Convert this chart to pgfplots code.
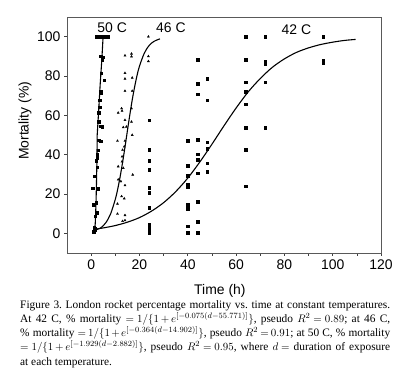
\documentclass[border=0pt]{standalone}
\usepackage{fontspec}
\setmainfont{Liberation Serif}
\newfontfamily\hv{Liberation Sans}
\usepackage{pgfplots}
\pgfplotsset{compat=1.18}
\begin{document}
\begin{tikzpicture}
\path[use as bounding box] (-67bp,-132bp) rectangle (333bp,253bp);
\begin{axis}[
 scale only axis, width=314bp, height=236bp,
 xmin=-10, xmax=120, ymin=-10, ymax=110,
 xtick={0,20,...,120}, ytick={0,20,...,100},
 minor xtick={10,30,...,110},
 tick pos=left,
 tick align=outside, major tick length=3pt, minor tick length=3pt,
 tick style={black!75, line width=0.6pt},
 axis line style={black!65, line width=0.8pt},
 /pgf/number format/assume math mode=true,
 ticklabel style={font=\hv\fontsize{14}{16}\selectfont},
 label style={font=\hv\fontsize{14}{16}\selectfont},
 xlabel={Time (h)}, ylabel={Mortality (\%)},
 xlabel style={at={(axis description cs:0.487,-0.16)}, anchor=center},
 ylabel style={at={(axis description cs:-0.134,0.56)}, anchor=center},
 clip=false,
]
% 42 C fitted curve
\addplot[black, line width=1.1pt, smooth] coordinates {
 (1.5,2.1) (5,2.75) (10,3.96) (15,5.67) (20,8.0) (25,11.3) (30,15.6) (35,21.2)
 (40,28.1) (45,36.3) (50,45.3) (55,54.7) (60,63.7) (65,71.9) (70,78.7) (75,84.4)
 (80,88.7) (85,92.0) (90,94.3) (95,96.0) (100,97.2) (105,98.1) (109.5,98.6)};
% 46 C fitted curve
\addplot[black, line width=1.1pt, smooth] coordinates {
 (1.5,1.6) (4,2.8) (6,5.3) (8,9.7) (10,17.3) (11,22.5) (12,28.8) (13,36.0)
 (14,43.8) (15,52.1) (16,60.2) (17,67.8) (18,74.5) (19,80.3) (20,85.0)
 (22,91.6) (24,95.5) (26,97.6) (28.5,98.9)};
% 50 C fitted curve
\addplot[black, line width=1.1pt] coordinates {
 (1.4,1.5) (1.7,5) (2.0,15) (2.2,25) (2.4,38) (2.5,50) (3.1,62) (3.7,75)
 (4.4,88) (4.9,99) (5.5,100) (7,100)};
% 42 C observations
\addplot[only marks, mark=square*, mark size=1.3pt, black] table {
x y
24 0.3
24 2.5
24 4.5
24 13
24 20.6
24 23.1
24 32.3
24 36.9
24 42.4
24 57.6
40 0.3
40 3.7
40 12.6
40 14.6
40 23.6
40 24.7
40 29.3
40 34.5
40 47
44 0.3
44 5.9
44 16
44 30.6
44 37.4
44 40.3
44 47.5
44 70.7
44 76.1
44 88.4
48 31.2
48 35.7
48 42.9
48 46.3
48 67.7
48 78.6
64 23.9
64 42.4
64 53.7
64 65.7
64 71.9
64 76.9
64 88.4
64 100
72 53.7
72 76.9
72 85.9
72 87.5
72 100
96 86.7
96 87.9
96 100
};
% 46 C observations
\addplot[only marks, mark=triangle*, mark size=1.2pt, black] table {
x y
10.9 9.9
14 9.2
13 6.2
14 6.6
10.9 15
13.7 17.7
12.6 18.8
14 24.4
11.2 27.3
12.3 26.4
17.2 29.8
11.2 34
13.3 33.2
12.8 39
12.8 36.5
13 42.4
13.7 44.1
14 47
10.9 47
17 50
14.6 54.2
13.3 53.9
16.7 56.7
14 57.6
11.2 61.3
12.8 62.3
12.6 63.5
16.7 63.5
14 72.4
17 72.4
14 78.6
17 79.1
14 81.5
14 90.4
16.7 91.3
16.7 89.9
23.7 100
23.7 90
23.7 87.5
};
% 50 C observations
\addplot[only marks, mark=square*, mark size=1.2pt, black] table {
x y
1.2 0.5
1.5 1.5
1.7 2.5
1.3 3
1.1 0.8
1.7 8.7
2.5 10.5
1.1 14.6
2.1 15.5
2.8 22.7
0.7 23.1
1.4 28.9
2.5 33.5
2.1 36.9
2.5 38.2
2.5 39.9
2.8 42.4
3.9 47
3.1 47.5
4.5 54.2
3.9 54.5
3.1 56.7
3.1 61.3
3.5 64
3.5 67.7
3.9 71.4
3.9 72.4
5.3 77.8
4.2 81.5
4.5 88.2
4.5 88.5
4.9 89.5
3.9 90
2.1 100
2.5 100
3 100
3.5 100
4 100
4.5 100
5 100
5.5 100
6 100
6.5 100
7 100
};
\node[font=\hv\fontsize{14}{16}\selectfont] at (axis cs:8.7,104.5) {50 C};
\node[font=\hv\fontsize{14}{16}\selectfont] at (axis cs:33,104.5) {46 C};
\node[font=\hv\fontsize{14}{16}\selectfont] at (axis cs:85,103.5) {42 C};
\end{axis}
\node[anchor=north west, text width=370bp, align=justify, inner sep=0pt,
 font=\fontsize{11.4}{14.3}\selectfont] at (-47bp,-47bp) {%
\frenchspacing\medmuskip=2mu plus 1mu\thickmuskip=3mu plus 2mu%
Figure 3. London rocket percentage mortality vs. time at constant temperatures.\linebreak
At 42 C, \% mortality $= 1/\{1 + e^{[-0.075(d-55.771)]}\}$, pseudo $R^2 = 0.89$; at 46 C,\linebreak
\% mortality $= 1/\{1 + e^{[-0.364(d-14.902)]}\}$, pseudo $R^2 = 0.91$; at 50 C, \% mortality\linebreak
$= 1/\{1 + e^{[-1.929(d-2.882)]}\}$, pseudo $R^2 = 0.95$, where $d =$ duration of exposure\linebreak
at each temperature.};
\end{tikzpicture}
\end{document}
